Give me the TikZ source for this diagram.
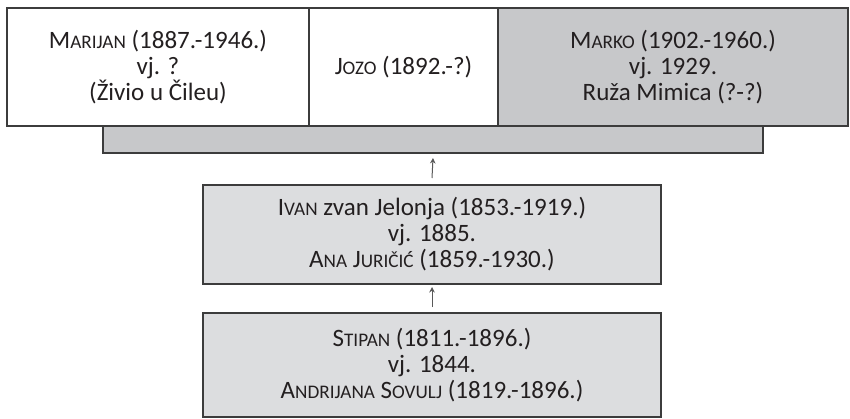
\documentclass[tikz,border=0pt]{standalone}
\usepackage{fontspec}
\setmainfont{Carlito}
\usetikzlibrary{arrows.meta}
\definecolor{darkgray}{HTML}{C7C8CA}
\definecolor{lightgray}{HTML}{DCDDDF}
\definecolor{edge}{HTML}{3C3C3C}
\definecolor{ink}{HTML}{231F20}
\newcommand\smc[1]{{\fontsize{19.2}{22}\selectfont #1}}
\tikzset{
  person/.style={draw=edge, line width=1.2pt, inner sep=0pt, outer sep=0pt,
    align=center, text=ink, font=\fontsize{25}{26}\selectfont},
  bar/.style={draw=edge, line width=1.5pt, fill=darkgray, inner sep=0pt, outer sep=0pt},
  arr/.style={draw=edge!85, line width=1pt, -{Stealth[length=5.5pt,width=5.5pt]}}
}
\begin{document}
\begin{tikzpicture}[x=1pt,y=-1pt]
\useasboundingbox (0,0) rectangle (850,418);
\node[person, fill=white, minimum width=302pt, minimum height=118pt] (marijan) at (158,67)
  {M\smc{ARIJAN} (1887.-1946.)\\ vj. ?\\ (Živio u Čileu)};
\node[person, fill=white, minimum width=189pt, minimum height=118pt] (jozo) at (403.5,67)
  {J\smc{OZO} (1892.-?)};
\node[person, fill=darkgray, minimum width=350pt, minimum height=118pt] (marko) at (673,67)
  {M\smc{ARKO} (1902.-1960.)\\ vj. 1929.\\ Ruža Mimica (?-?)};
\node[bar, minimum width=660pt, minimum height=27pt] (bar) at (433,139.5) {};
\node[person, line width=1.5pt, fill=lightgray, minimum width=458pt, minimum height=99pt] (ivan) at (432,234.5)
  {I\smc{VAN} zvan Jelonja (1853.-1919.)\\ vj. 1885.\\ A\smc{NA} J\smc{URIČIĆ} (1859.-1930.)};
\node[person, line width=1.5pt, fill=lightgray, minimum width=458pt, minimum height=104pt] (stipan) at (432,365)
  {S\smc{TIPAN} (1811.-1896.)\\ vj. 1844.\\ A\smc{NDRIJANA} S\smc{OVULJ} (1819.-1896.)};
\draw[arr] ([yshift=7pt]ivan.north) -- ([yshift=-5pt]bar.south);
\draw[arr] ([yshift=6pt]stipan.north) -- ([yshift=-3pt]ivan.south);
\end{tikzpicture}
\end{document}
